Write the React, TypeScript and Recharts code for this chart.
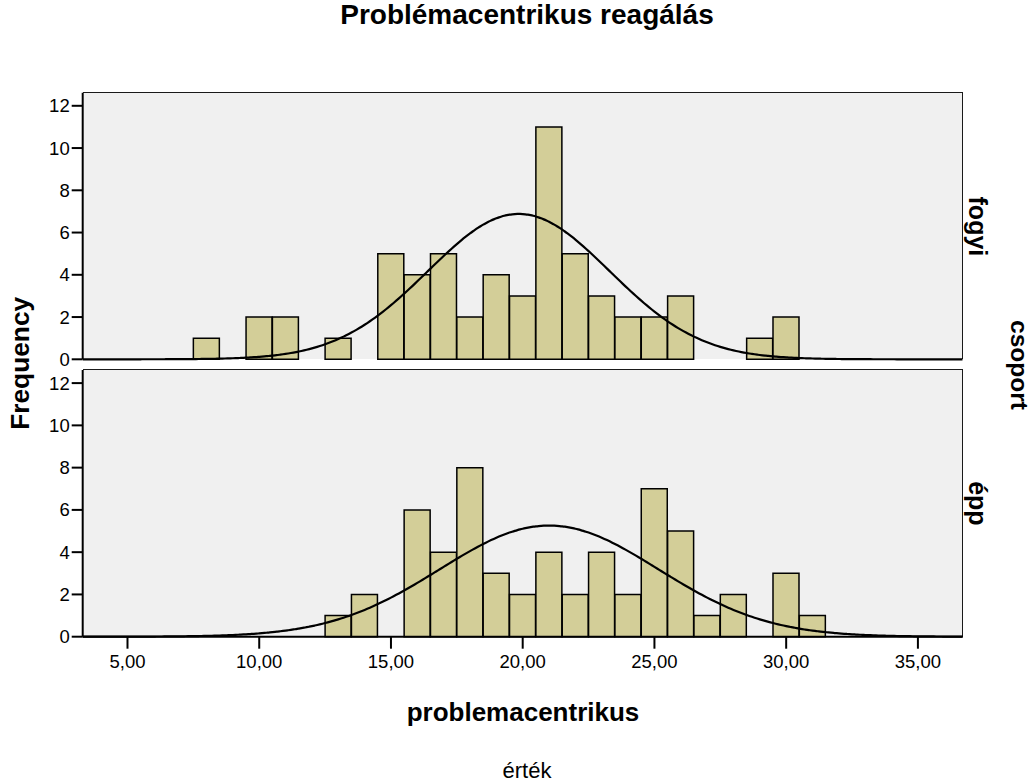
import React from 'react';
import { ComposedChart, Bar, Line, XAxis, YAxis } from 'recharts';

// histogram bins (bin width 1, centred on whole numbers)
const fogyiBins = [8, 10, 11, 13, 15, 16, 17, 18, 19, 20, 21, 22, 23, 24, 25, 26, 29, 30];
const fogyiCounts = [1, 2, 2, 1, 5, 4, 5, 2, 4, 3, 11, 5, 3, 2, 2, 3, 1, 2];

const eppBins = [13, 14, 16, 17, 18, 19, 20, 21, 22, 23, 24, 25, 26, 27, 28, 30, 31];
const eppCounts = [1, 2, 6, 4, 8, 3, 2, 4, 2, 4, 2, 7, 5, 1, 2, 3, 1];

// fitted normal curves
const fogyiFit = { mean: 19.85, sd: 3.45, peak: 6.88 };
const eppFit = { mean: 21.0, sd: 4.15, peak: 5.26 };

const xTicks = [5, 10, 15, 20, 25, 30, 35];
const yTicks = [0, 2, 4, 6, 8, 10, 12];

const X_DOMAIN: [number, number] = [3.3, 36.7];
const Y_DOMAIN: [number, number] = [0, 12.62];
const FONT = '"Liberation Sans", Arial, sans-serif';
const BAR_FILL = '#d3ce98';
const BG = '#f0f0f0';

const PLOT_LEFT = 82.7;
const PLOT_RIGHT = 962.7;
const Y_AXIS_W = 60;

function normalCurve(fit: { mean: number; sd: number; peak: number }) {
  const pts: { x: number; curve: number }[] = [];
  for (let i = 0; i <= 334; i++) {
    const x = X_DOMAIN[0] + i * 0.1;
    pts.push({ x, curve: fit.peak * Math.exp(-0.5 * ((x - fit.mean) / fit.sd) ** 2) });
  }
  return pts;
}

interface PanelProps {
  bins: number[];
  counts: number[];
  fit: { mean: number; sd: number; peak: number };
  top: number;
  height: number;
  plotTop: number;
  plotBottom: number;
  showX: boolean;
}

function Panel({ bins, counts, fit, top, height, plotTop, plotBottom, showX }: PanelProps) {
  const bars = bins.map((x, i) => ({ x, count: counts[i] }));
  const curve = normalCurve(fit);
  const tickStyle = { fill: '#000', fontSize: 18.5, fontFamily: FONT };
  const xH = showX ? 50 : 0;
  const margin = {
    top: plotTop - top,
    right: 1033 - PLOT_RIGHT,
    bottom: top + height - plotBottom - xH,
    left: PLOT_LEFT - Y_AXIS_W,
  };
  // hidden axes take no room, so the curve layer uses the bare plot box
  const curveMargin = {
    top: plotTop - top,
    right: 1033 - PLOT_RIGHT,
    bottom: top + height - plotBottom,
    left: PLOT_LEFT,
  };
  const layer = { position: 'absolute' as const, left: 0, top };
  return (
    <>
      {/* plot background with thin top/right frame */}
      <div
        style={{
          position: 'absolute',
          left: PLOT_LEFT,
          top: plotTop - 1,
          width: PLOT_RIGHT - PLOT_LEFT + 0.7,
          height: plotBottom - plotTop + 1,
          background: BG,
          borderTop: '1.3px solid #1a1a1a',
          borderRight: '1.3px solid #1a1a1a',
          boxSizing: 'border-box',
        }}
      />
      <div style={layer}>
        <ComposedChart width={1033} height={height} data={bars} margin={margin} barCategoryGap={0} barGap={0}>
          <XAxis
            dataKey="x"
            type="number"
            domain={X_DOMAIN}
            allowDataOverflow
            ticks={showX ? xTicks : []}
            tick={showX ? tickStyle : false}
            tickLine={showX ? { stroke: '#000', strokeWidth: 2 } : false}
            tickSize={12}
            tickMargin={6}
            tickFormatter={(v: number) => v.toFixed(2).replace('.', ',')}
            axisLine={{ stroke: '#000', strokeWidth: 2 }}
            height={xH}
          />
          <YAxis
            type="number"
            domain={Y_DOMAIN}
            ticks={yTicks}
            width={Y_AXIS_W}
            tick={tickStyle}
            tickSize={11}
            tickMargin={2}
            tickLine={{ stroke: '#000', strokeWidth: 2 }}
            axisLine={{ stroke: '#000', strokeWidth: 2 }}
          />
          <Bar dataKey="count" fill={BAR_FILL} stroke="#000" strokeWidth={1.5} isAnimationActive={false} />
        </ComposedChart>
      </div>
      <div style={layer}>
        <ComposedChart width={1033} height={height} data={curve} margin={curveMargin}>
          <XAxis dataKey="x" type="number" domain={X_DOMAIN} allowDataOverflow hide />
          <YAxis type="number" domain={Y_DOMAIN} hide />
          <Line
            dataKey="curve"
            type="monotone"
            dot={false}
            activeDot={false}
            stroke="#000"
            strokeWidth={2.2}
            isAnimationActive={false}
          />
        </ComposedChart>
      </div>
    </>
  );
}

export default function App() {
  return (
    <div style={{ position: 'absolute', left: 0, top: 0, width: 1033, height: 783, background: '#fff', fontFamily: FONT }}>
      <Panel bins={fogyiBins} counts={fogyiCounts} fit={fogyiFit} top={0} height={372} plotTop={92.7} plotBottom={359.3} showX={false} />
      <Panel bins={eppBins} counts={eppCounts} fit={eppFit} top={366} height={417} plotTop={370} plotBottom={636.7} showX />
      <svg width={1033} height={783} style={{ position: 'absolute', left: 0, top: 0, pointerEvents: 'none' }}>
        <text x={527} y={23.5} textAnchor="middle" fontSize={28} fontWeight="bold" fontFamily={FONT}>
          Problémacentrikus reagálás
        </text>
        <text x={523} y={720.5} textAnchor="middle" fontSize={26} fontWeight="bold" fontFamily={FONT}>
          problemacentrikus
        </text>
        <text x={527} y={778} textAnchor="middle" fontSize={22} fontFamily={FONT}>
          érték
        </text>
        <text x={29} y={363.3} textAnchor="middle" fontSize={26.3} fontWeight="bold" fontFamily={FONT} transform="rotate(-90 29 363.3)">
          Frequency
        </text>
        <text x={969} y={226.4} textAnchor="middle" fontSize={25} fontWeight="bold" fontFamily={FONT} transform="rotate(90 969 226.4)">
          fogyi
        </text>
        <text x={969} y={503.4} textAnchor="middle" fontSize={25} fontWeight="bold" fontFamily={FONT} transform="rotate(90 969 503.4)">
          épp
        </text>
        <text x={1011} y={365} textAnchor="middle" fontSize={24.5} fontWeight="bold" fontFamily={FONT} transform="rotate(90 1011 365)">
          csoport
        </text>
      </svg>
    </div>
  );
}
